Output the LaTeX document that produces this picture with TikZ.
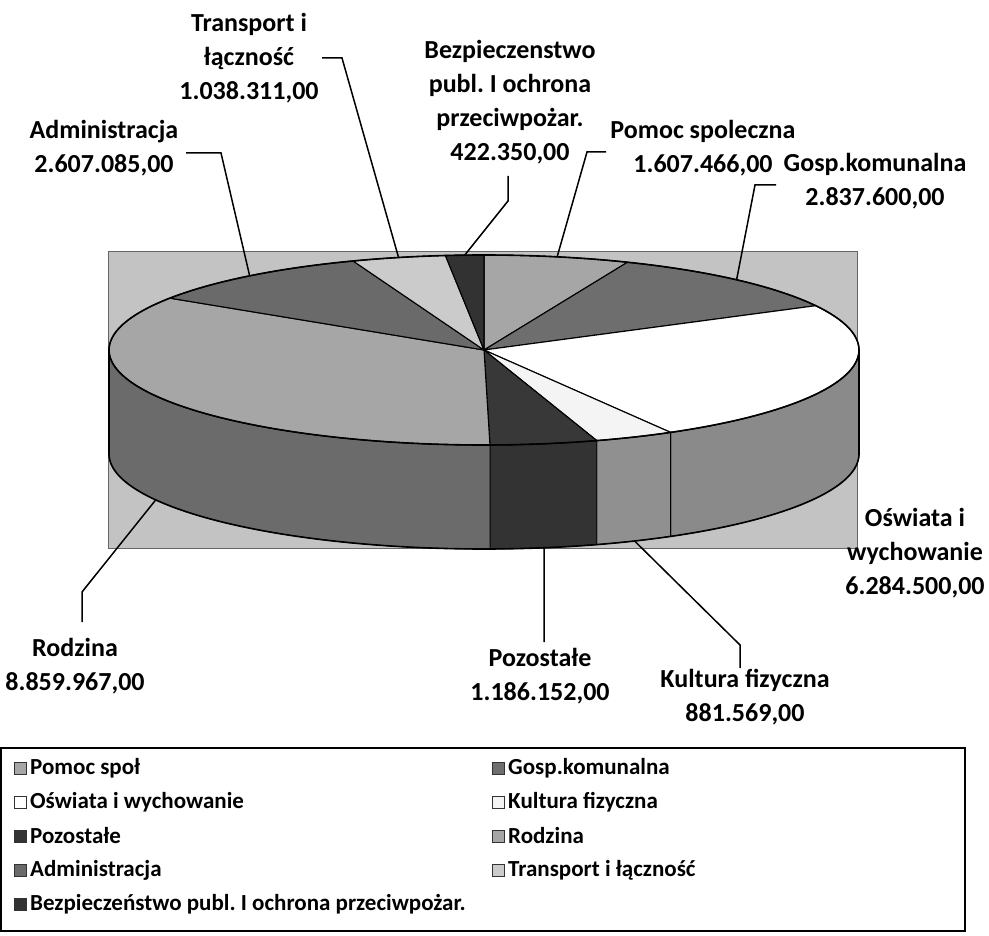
\documentclass[tikz,border=0pt]{standalone}
\usepackage{fontspec}
\setmainfont{Carlito}
\frenchspacing
\definecolor{bgc}{HTML}{C3C3C3}
\definecolor{cPomoc}{HTML}{A6A6A6}
\definecolor{cGosp}{HTML}{6E6E6E}
\definecolor{cOsw}{HTML}{FFFFFF}
\definecolor{cOswS}{HTML}{8A8A8A}
\definecolor{cKult}{HTML}{F4F4F4}
\definecolor{cKultS}{HTML}{909090}
\definecolor{cPoz}{HTML}{383838}
\definecolor{cPozS}{HTML}{333333}
\definecolor{cRodz}{HTML}{A6A6A6}
\definecolor{cRodzS}{HTML}{6B6B6B}
\definecolor{cAdm}{HTML}{6A6A6A}
\definecolor{cTr}{HTML}{CBCBCB}
\definecolor{cBez}{HTML}{323232}
\def\cx{484}
\def\cy{350}
\def\rx{375}
\def\ry{95}
\def\dep{104}
\newcommand\PieTop[3]{\filldraw[fill=#3,draw=black,line width=1.1pt,line join=round] (\cx,\cy) -- plot[domain=#1:#2,samples=50] ({\cx+\rx*cos(\x)},{\cy-\ry*sin(\x)}) -- cycle;}
\newcommand\PieSide[3]{\filldraw[fill=#3,draw=black,line width=0.8pt] plot[domain=#1:#2,samples=50] ({\cx+\rx*cos(\x)},{\cy-\ry*sin(\x)}) -- plot[domain=#2:#1,samples=50] ({\cx+\rx*cos(\x)},{\cy+\dep-\ry*sin(\x)}) -- cycle;}
\begin{document}
\begin{tikzpicture}[x=1pt,y=-1pt,
  lbl/.style={align=center,font=\fontsize{26}{34}\selectfont\bfseries,inner sep=0pt},
  leader/.style={draw=black,line width=1.5pt},
  legtxt/.style={anchor=west,font=\fontsize{23}{27}\selectfont\bfseries,inner sep=0pt},
  legkey/.style={draw=black!80,line width=0.8pt,minimum size=12pt,inner sep=0pt}]
\useasboundingbox (0,0) rectangle (989,936);
\fill[white] (0,0) rectangle (989,936);
% plot area
\filldraw[fill=bgc,draw=black!60,line width=0.8pt] (108,251) rectangle (857,548);
% sides
\PieSide{-60.15}{0}{cOswS}
\PieSide{-72.49}{-60.15}{cKultS}
\PieSide{-89.09}{-72.49}{cPozS}
\PieSide{-180}{-89.09}{cRodzS}
% tops
\PieTop{67.50}{90}{cPomoc}
\PieTop{27.79}{67.50}{cGosp}
\PieTop{-60.15}{27.79}{cOsw}
\PieTop{-72.49}{-60.15}{cKult}
\PieTop{-89.09}{-72.49}{cPoz}
\PieTop{-213.08}{-89.09}{cRodz}
\PieTop{-249.56}{-213.08}{cAdm}
\PieTop{-264.09}{-249.56}{cTr}
\PieTop{-270}{-264.09}{cBez}
% outlines
\draw[black,line width=1.6pt] plot[domain=0:360,samples=240] ({\cx+\rx*cos(\x)},{\cy-\ry*sin(\x)}) -- cycle;
\draw[black,line width=1.6pt] plot[domain=-180:0,samples=160] ({\cx+\rx*cos(\x)},{\cy+\dep-\ry*sin(\x)});
\draw[black,line width=1.4pt] (\cx-\rx,\cy) -- (\cx-\rx,\cy+\dep);
\draw[black,line width=1.4pt] (\cx+\rx,\cy) -- (\cx+\rx,\cy+\dep);
% leader anchor points on pie
\coordinate (pAdm) at ({\cx+\rx*cos(128.68)},{\cy-\ry*sin(128.68)});
\coordinate (pTr) at ({\cx+\rx*cos(103.17)},{\cy-\ry*sin(103.17)});
\coordinate (pBez) at ({\cx+\rx*cos(92.95)},{\cy-\ry*sin(92.95)});
\coordinate (pPom) at ({\cx+\rx*cos(78.75)},{\cy-\ry*sin(78.75)});
\coordinate (pGosp) at ({\cx+\rx*cos(47.65)},{\cy-\ry*sin(47.65)});
\coordinate (pKult) at ({\cx+\rx*cos(-66.32)},{\cy+\dep-\ry*sin(-66.32)});
\coordinate (pPoz) at ({\cx+\rx*cos(-80.79)},{\cy+\dep-\ry*sin(-80.79)});
\coordinate (pRodz) at ({\cx+\rx*cos(208.9)},{\cy+\dep-\ry*sin(208.9)});
% labels
\node[lbl] (lTr) at (249,58) {Transport i\\łączność\\1.038.311,00};
\node[lbl] (lBez) at (510,102.5) {Bezpieczenstwo\\publ. I ochrona\\przeciwpożar.\\422.350,00};
\node[lbl] (lAdm) at (104,148) {Administracja\\2.607.085,00};
\node[lbl] (lPom) at (703,148) {Pomoc spoleczna\\1.607.466,00};
\node[lbl] (lGosp) at (875,181) {Gosp.komunalna\\2.837.600,00};
\node[lbl] (lOsw) at (915,553) {Oświata i\\wychowanie\\6.284.500,00};
\node[lbl] (lRodz) at (75,666.5) {Rodzina\\8.859.967,00};
\node[lbl] (lPoz) at (540,676.5) {Pozostałe\\1.186.152,00};
\node[lbl] (lKult) at (745,697) {Kultura fizyczna\\881.569,00};
% leader bends
\coordinate (tAdm1) at (186,153); \coordinate (tAdm2) at (221,153);
\coordinate (tTr1) at (322,58); \coordinate (tTr2) at (342,58);
\coordinate (tBez1) at (508,176); \coordinate (tBez2) at (508,201);
\coordinate (tPom1) at (606,152); \coordinate (tPom2) at (587,152);
\coordinate (tGosp1) at (776,185); \coordinate (tGosp2) at (755,185);
\coordinate (tKult1) at (740,668); \coordinate (tKult2) at (740,645);
\coordinate (tPoz1) at (544,642);
\coordinate (tRodz1) at (82,622); \coordinate (tRodz2) at (82,592);
\draw[leader] (tAdm1) -- (tAdm2) -- (pAdm);
\draw[leader] (tTr1) -- (tTr2) -- (pTr);
\draw[leader] (tBez1) -- (tBez2) -- (pBez);
\draw[leader] (tPom1) -- (tPom2) -- (pPom);
\draw[leader] (tGosp1) -- (tGosp2) -- (pGosp);
\draw[leader] (tKult1) -- (tKult2) -- (pKult);
\draw[leader] (tPoz1) -- (pPoz);
\draw[leader] (tRodz1) -- (tRodz2) -- (pRodz);
% legend
\draw[black,line width=1.6pt] (1,748) rectangle (965,931);
\node[legkey,fill=cPomoc] (k1) at (20,768) {};
\node[legtxt] (t1) at (30,768) {Pomoc społ};
\node[legkey,fill=cOsw] (k2) at (20,802) {};
\node[legtxt] (t2) at (30,802) {Oświata i wychowanie};
\node[legkey,fill=cPozS] (k3) at (20,836) {};
\node[legtxt] (t3) at (30,836) {Pozostałe};
\node[legkey,fill=cAdm] (k4) at (20,870) {};
\node[legtxt] (t4) at (30,870) {Administracja};
\node[legkey,fill=cBez] (k5) at (20,904) {};
\node[legtxt] (t5) at (30,904) {Bezpieczeństwo publ. I ochrona przeciwpożar.};
\node[legkey,fill=cGosp] (k6) at (498,768) {};
\node[legtxt] (t6) at (508,768) {Gosp.komunalna};
\node[legkey,fill=cKult] (k7) at (498,802) {};
\node[legtxt] (t7) at (508,802) {Kultura fizyczna};
\node[legkey,fill=cRodz] (k8) at (498,836) {};
\node[legtxt] (t8) at (508,836) {Rodzina};
\node[legkey,fill=cTr] (k9) at (498,870) {};
\node[legtxt] (t9) at (508,870) {Transport i łączność};
\end{tikzpicture}
\end{document}
